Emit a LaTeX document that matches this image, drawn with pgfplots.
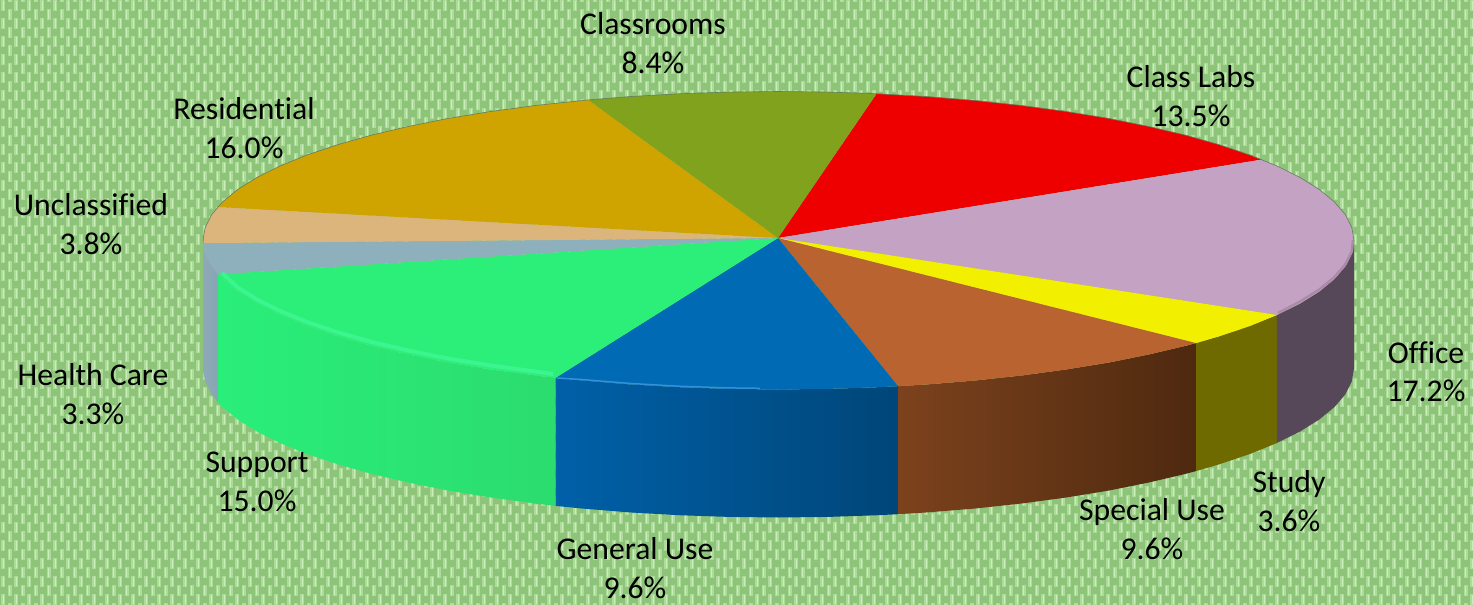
\documentclass[border=0pt]{standalone}
\usepackage{fontspec}
\setmainfont{Carlito}[Ligatures=CommonOff]
\usepackage{pgfplots}
\pgfplotsset{compat=1.18}
\definecolor{bgbase}{HTML}{8DC47A}
\definecolor{bgspot}{HTML}{ADDB9A}
\definecolor{bgcore}{HTML}{CBEDBB}
\definecolor{hcL}{RGB}{142,170,184}
\definecolor{hcR}{RGB}{136,165,180}
\definecolor{suL}{RGB}{42,238,122}
\definecolor{suR}{RGB}{43,220,110}
\definecolor{guL}{RGB}{0,96,168}
\definecolor{guR}{RGB}{0,70,120}
\definecolor{spL}{RGB}{124,66,29}
\definecolor{spR}{RGB}{78,41,15}
\definecolor{stS}{RGB}{110,106,0}
\definecolor{ofS}{RGB}{87,72,89}
\definecolor{clT}{RGB}{239,0,0}
\definecolor{ofT}{RGB}{195,162,195}
\definecolor{stT}{RGB}{242,239,0}
\definecolor{spT}{RGB}{184,99,48}
\definecolor{guT}{RGB}{0,106,180}
\definecolor{suT}{RGB}{43,239,120}
\definecolor{hcT}{RGB}{141,176,188}
\definecolor{unT}{RGB}{220,181,124}
\definecolor{reT}{RGB}{207,163,0}
\definecolor{crT}{RGB}{129,162,29}
\definecolor{suH}{RGB}{60,245,144}
\definecolor{guH}{RGB}{50,145,215}
\definecolor{ofH}{RGB}{170,140,170}
\definecolor{rimO}{RGB}{100,125,95}
\tikzset{lab/.style={align=center,text=black,font=\fontsize{31.8}{38.5}\selectfont,inner sep=0pt}}
\begin{document}
\begin{tikzpicture}[x=1bp,y=1bp]
% woven background texture
\begin{scope}
\clip (0,0) rectangle (1473,605);
\fill[bgbase] (0,0) rectangle (1473,605);
\foreach \i in {0,...,113}{
  \draw[bgspot,line width=3.6bp,dash pattern=on 11bp off 7bp] ({3.25+13*\i},0) -- ({3.25+13*\i},605);
  \draw[bgcore,line width=1.4bp,dash pattern=on 9bp off 9bp,dash phase=-1bp] ({3.25+13*\i},0) -- ({3.25+13*\i},605);
  \draw[bgspot,line width=3.6bp,dash pattern=on 11bp off 7bp,dash phase=9bp] ({9.75+13*\i},0) -- ({9.75+13*\i},605);
  \draw[bgcore,line width=1.4bp,dash pattern=on 9bp off 9bp,dash phase=8bp] ({9.75+13*\i},0) -- ({9.75+13*\i},605);
}
\end{scope}
\begin{axis}[
  at={(0,0)},anchor=south west,
  scale only axis,width=1473bp,height=605bp,
  xmin=0,xmax=1473,ymin=0,ymax=605,y dir=reverse,
  xtick=\empty,ytick=\empty,
  axis line style={draw=none},
  clip=true,
]
% sides
\addplot[draw=none,left color=hcL,right color=hcR] coordinates {(203.1,243.1)(205.2,253.5)(211.7,266.4)(218,274.3)(218,402.3)(211.7,394.4)(205.2,381.5)(203.1,371.1)} --cycle;
\addplot[draw=none,left color=suL,right color=suR] coordinates {(218,274.3)(222.6,279.1)(237.7,291.5)(256.9,303.5)(280.1,315)(306.9,326)(337.7,336.3)(371.6,345.9)(408.6,354.6)(448.4,362.6)(490.7,369.5)(535.3,375.5)(555.5,377.9)(555.5,505.9)(535.3,503.5)(490.7,497.5)(448.4,490.6)(408.6,482.6)(371.6,473.9)(337.7,464.3)(306.9,454)(280.1,443)(256.9,431.5)(237.7,419.5)(222.6,407.1)(218,402.3)} --cycle;
\addplot[draw=none,left color=guL,right color=guR] coordinates {(555.5,377.9)(581.7,380.5)(629.6,384.4)(678.6,387.2)(728.3,388.9)(778.5,389.5)(828.7,388.9)(878.4,387.2)(898.1,386.2)(898.1,514.2)(878.4,515.2)(828.7,516.9)(778.5,517.5)(728.3,516.9)(678.6,515.2)(629.6,512.4)(581.7,508.5)(555.5,505.9)} --cycle;
\addplot[draw=none,left color=spL,right color=spR] coordinates {(898.1,386.2)(927.4,384.4)(975.3,380.5)(1021.7,375.5)(1066.3,369.5)(1108.6,362.6)(1148.4,354.6)(1185.4,345.9)(1196,343.1)(1196,471.1)(1185.4,473.9)(1148.4,482.6)(1108.6,490.6)(1066.3,497.5)(1021.7,503.5)(975.3,508.5)(927.4,512.4)(898.1,514.2)} --cycle;
\addplot[draw=none,fill=stS] coordinates {(1196,343.1)(1219.3,336.3)(1249.9,326)(1276.9,315)(1276.9,443)(1249.9,454)(1219.3,464.3)(1196,471.1)} --cycle;
\addplot[draw=none,fill=ofS] coordinates {(1276.9,315)(1300.1,303.5)(1319.3,291.5)(1334.4,279.1)(1345.3,266.4)(1351.8,253.5)(1354,240.5)(1354,368.5)(1351.8,381.5)(1345.3,394.4)(1334.4,407.1)(1319.3,419.5)(1300.1,431.5)(1276.9,443)} --cycle;
% top wedges
\addplot[draw=none,fill=clT] coordinates {(778,238)(876.5,93.7)(927.4,96.6)(975.3,100.5)(1021.7,105.5)(1066.3,111.5)(1108.6,118.4)(1148.4,126.4)(1185.4,135.1)(1219.3,144.7)(1249.9,155)(1261.7,159.6)} --cycle;
\addplot[draw=none,fill=ofT] coordinates {(778,238)(1261.7,159.6)(1276.9,166)(1300.1,177.5)(1319.3,189.5)(1334.4,201.9)(1345.3,214.6)(1351.8,227.5)(1354,240.5)(1351.8,253.5)(1345.3,266.4)(1334.4,279.1)(1319.3,291.5)(1300.1,303.5)(1276.9,315)} --cycle;
\addplot[draw=none,fill=stT] coordinates {(778,238)(1276.9,315)(1249.9,326)(1219.3,336.3)(1196,343.1)} --cycle;
\addplot[draw=none,fill=spT] coordinates {(778,238)(1196,343.1)(1185.4,345.9)(1148.4,354.6)(1108.6,362.6)(1066.3,369.5)(1021.7,375.5)(975.3,380.5)(927.4,384.4)(898.1,386.2)} --cycle;
\addplot[draw=none,fill=guT] coordinates {(778,238)(898.1,386.2)(878.4,387.2)(828.7,388.9)(778.5,389.5)(728.3,388.9)(678.6,387.2)(629.6,384.4)(581.7,380.5)(555.5,377.9)} --cycle;
\addplot[draw=none,fill=suT] coordinates {(778,238)(555.5,377.9)(535.3,375.5)(490.7,369.5)(448.4,362.6)(408.6,354.6)(371.6,345.9)(337.7,336.3)(306.9,326)(280.1,315)(256.9,303.5)(237.7,291.5)(222.6,279.1)(218,274.3)} --cycle;
\addplot[draw=none,fill=hcT] coordinates {(778,238)(218,274.3)(211.7,266.4)(205.2,253.5)(203.1,243.1)} --cycle;
\addplot[draw=none,fill=unT] coordinates {(778,238)(203.1,243.1)(203.3,237.9)(205.2,227.5)(211.7,214.6)(217.7,207)} --cycle;
\addplot[draw=none,fill=reT] coordinates {(778,238)(217.7,207)(222.6,201.9)(237.7,189.5)(256.9,177.5)(280.1,166)(306.9,155)(337.7,144.7)(371.6,135.1)(408.6,126.4)(448.4,118.4)(490.7,111.5)(535.3,105.5)(588.3,99.9)} --cycle;
\addplot[draw=none,fill=crT] coordinates {(778,238)(588.3,99.9)(629.6,96.6)(678.6,93.8)(728.3,92.1)(778.5,91.5)(828.7,92.1)(876.5,93.7)} --cycle;
% rim highlights
\addplot[line width=4bp,color=suH] coordinates {(222,273)(237.7,287.5)(256.9,299.5)(280.1,311)(306.9,322)(337.7,332.3)(371.6,341.9)(408.6,350.6)(448.4,358.6)(490.7,365.5)(535.3,371.5)(553,374)};
\addplot[line width=1.5bp,color=guH] coordinates {(557,378)(581.7,379.5)(629.6,383.4)(678.6,386.2)(728.3,387.9)(760,388.3)};
\addplot[line width=2.5bp,color=ofH] coordinates {(1278,313)(1300.1,301.5)(1319.3,289.5)(1334.4,277.1)(1345.3,264.4)(1351.8,251.5)(1353,240)};
% outline of the rear rim
\addplot[line width=0.6bp,color=rimO] coordinates {(203.1,243.1)(203.3,237.9)(205.2,227.5)(211.7,214.6)(222.6,201.9)(237.7,189.5)(256.9,177.5)(280.1,166)(306.9,155)(337.7,144.7)(371.6,135.1)(408.6,126.4)(448.4,118.4)(490.7,111.5)(535.3,105.5)(588.3,99.9)(629.6,96.6)(678.6,93.8)(728.3,92.1)(778.5,91.5)(828.7,92.1)(876.5,93.7)(927.4,96.6)(975.3,100.5)(1021.7,105.5)(1066.3,111.5)(1108.6,118.4)(1148.4,126.4)(1185.4,135.1)(1219.3,144.7)(1249.9,155)(1276.9,166)(1300.1,177.5)(1319.3,189.5)(1334.4,201.9)(1345.3,214.6)(1351.8,227.5)(1354,240.5)};
% labels
\node[lab] at (axis cs:653,43) {Classrooms\\8.4\%};
\node[lab] at (axis cs:1191,96) {Class Labs\\13.5\%};
\node[lab] at (axis cs:244,128) {Residential\\16.0\%};
\node[lab] at (axis cs:91,224) {Unclassified\\3.8\%};
\node[lab] at (axis cs:93,394) {Health Care\\3.3\%};
\node[lab] at (axis cs:257,482) {Support\\15.0\%};
\node[lab] at (axis cs:635,568) {General Use\\9.6\%};
\node[lab] at (axis cs:1152,529) {Special Use\\9.6\%};
\node[lab] at (axis cs:1289,501) {Study\\3.6\%};
\node[lab] at (axis cs:1426,372) {Office\\17.2\%};
\end{axis}
\end{tikzpicture}
\end{document}
